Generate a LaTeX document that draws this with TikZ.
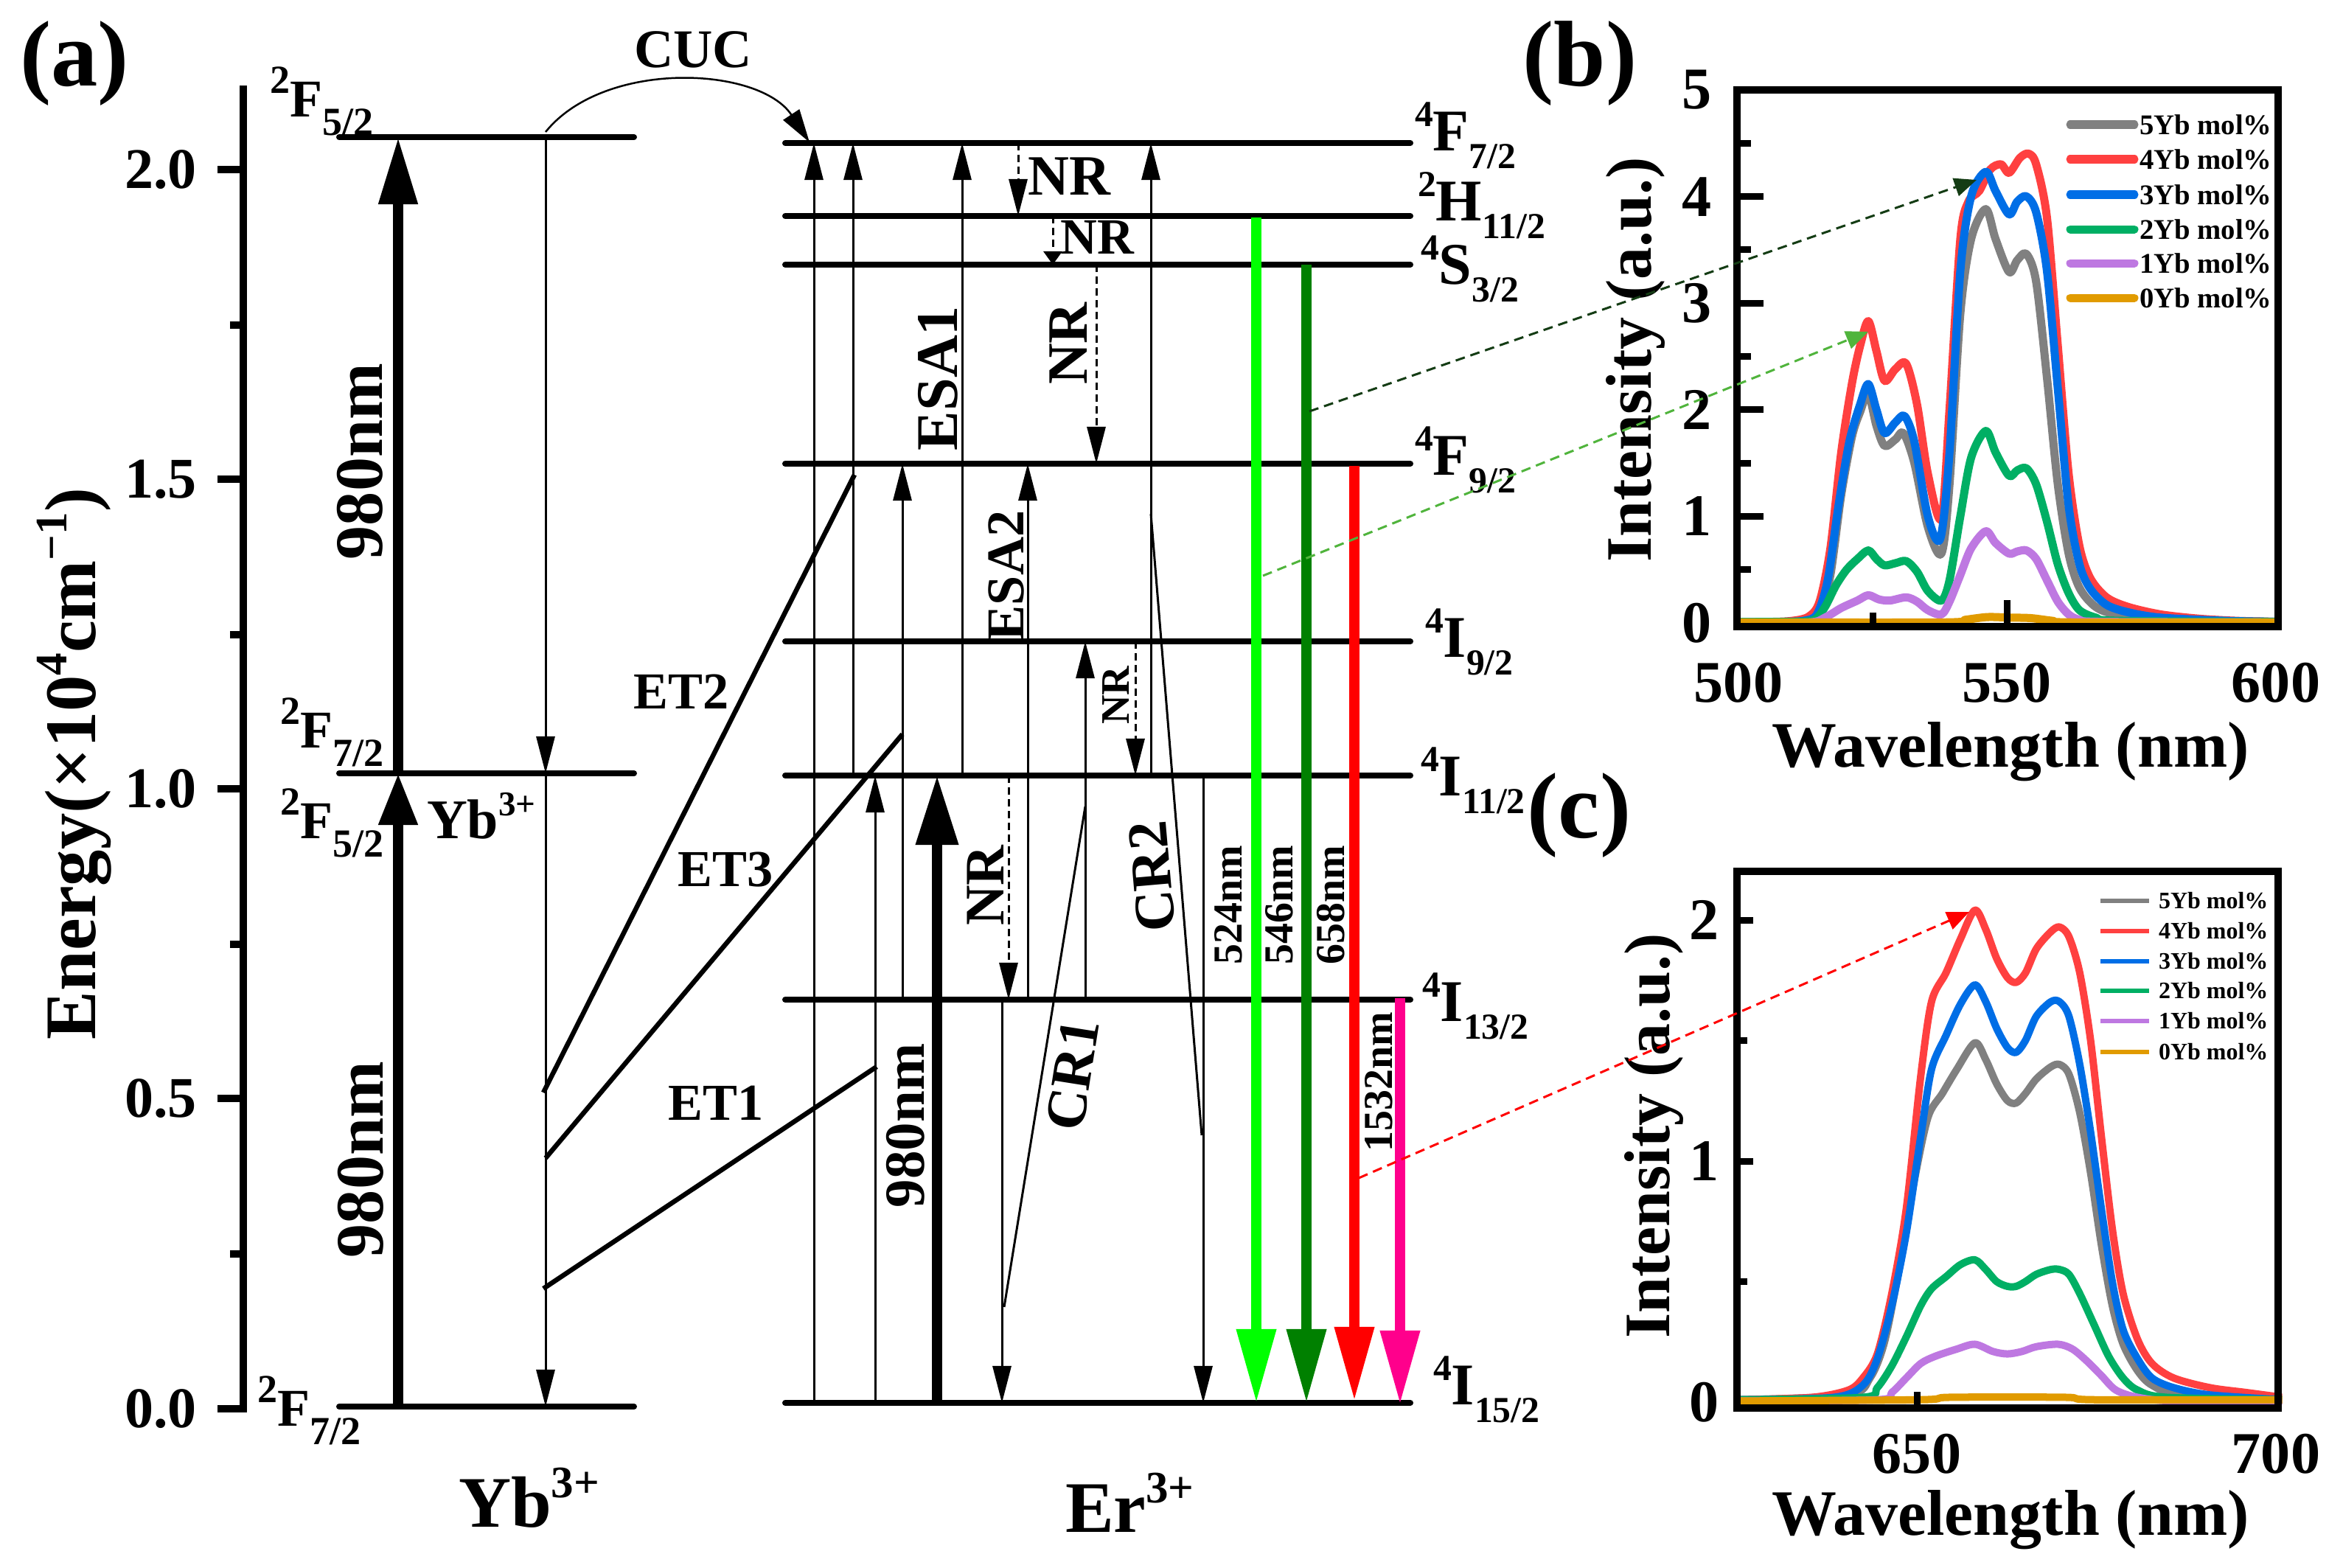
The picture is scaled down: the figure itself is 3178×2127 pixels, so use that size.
\documentclass[tikz,border=0pt]{standalone}
\usepackage{fontspec}
\setmainfont{Liberation Serif}
\usetikzlibrary{arrows.meta}
\definecolor{lgreen}{RGB}{0,255,0}
\definecolor{dgreen}{RGB}{0,128,0}
\definecolor{pinkm}{RGB}{255,0,140}
\definecolor{ddash}{RGB}{20,60,20}
\definecolor{ldash}{RGB}{80,180,60}
\definecolor{cgray}{RGB}{128,128,128}
\definecolor{cred}{RGB}{255,64,64}
\definecolor{cblue}{RGB}{0,110,230}
\definecolor{cgreen}{RGB}{0,175,100}
\definecolor{cpurp}{RGB}{190,120,225}
\definecolor{corng}{RGB}{225,155,0}
\newcommand\fs[1]{\fontsize{#1}{#1}\selectfont\bfseries}
\newcommand\YSup[1]{\raisebox{0.44em}{\scalebox{0.75}{#1}}}
\newcommand\YSub[1]{\raisebox{-0.36em}{\scalebox{0.75}{#1}}}
\newcommand\ESup[1]{\raisebox{0.4em}{\scalebox{0.62}{#1}}}
\newcommand\ESub[1]{\raisebox{-0.3em}{\scalebox{0.62}{#1}}}
\begin{document}
\begin{tikzpicture}[x=0.01cm,y=-0.01cm,
  lvl/.style={line width=0.08cm,line cap=round},
  thn/.style={line width=0.03cm},
  tarr/.style={thn,-{Triangle[length=0.5cm,width=0.25cm]}},
  nrd/.style={thn,dash pattern=on 0.1cm off 0.06cm,-{Triangle[length=0.5cm,width=0.25cm]}},
  ybarrow/.style={line width=0.14cm,-{Triangle[length=#1,width=0.5cm]}},
  erarrow/.style={line width=0.134cm,-{Triangle[length=0.94cm,width=0.55cm]}},
  emis/.style={line width=0.134cm,draw=#1,-{Triangle[length=1.0cm,width=0.51cm]}},
  conn/.style={line width=0.03cm,draw=#1,dash pattern=on 0.13cm off 0.08cm,-{Triangle[length=0.3cm,width=0.25cm]}},
  et/.style={line width=0.065cm},
  txt/.style={inner sep=0pt,outer sep=0pt},
  frm/.style={line width=0.1cm},
  tck/.style={line width=0.09cm},
  crv/.style={line width=0.11cm,line join=round,draw=#1},
  crvc/.style={line width=0.1cm,line join=round,draw=#1},
]
\useasboundingbox (0,0) rectangle (3178,2127);
\fill[white] (0,0) rectangle (3178,2127);

% ---------------- panel (a) ----------------
\node[txt,font=\fs{36}] (la) at (101,86) {(a)};
\node[txt,font=\fs{28},rotate=90] (ylab) at (101,1036) {Energy(×10\ESup{4}cm\ESup{−1})};
\draw[frm] (330,116) -- (330,1916);
\foreach \y in {230,650,1070,1490,1911} \draw[frm] (295,\y) -- (330,\y);
\foreach \y in {441,861,1281,1701} \draw[frm] (312,\y) -- (330,\y);
\node[txt,font=\fs{22.2},anchor=east] (ta0) at (267,1911) {0.0};
\node[txt,font=\fs{22.2},anchor=east] (ta1) at (267,1490) {0.5};
\node[txt,font=\fs{22.2},anchor=east] (ta2) at (267,1070) {1.0};
\node[txt,font=\fs{22.2},anchor=east] (ta3) at (267,650) {1.5};
\node[txt,font=\fs{22.2},anchor=east] (ta4) at (267,230) {2.0};

% Yb levels
\coordinate (ybT) at (740,186);
\coordinate (ybM) at (740,1049);
\coordinate (ybB) at (740,1908);
\draw[lvl] (460,186) -- (860,186);
\draw[lvl] (460,1049) -- (860,1049);
\draw[lvl] (460,1908) -- (860,1908);
\node[txt,font=\fs{20.5},anchor=base west] (yl1) at (366,158) {\YSup{2}F\YSub{5/2}};
\node[txt,font=\fs{20.5},anchor=base west] (yl2) at (380,1014) {\YSup{2}F\YSub{7/2}};
\node[txt,font=\fs{20.5},anchor=base west] (yl3) at (380,1137) {\YSup{2}F\YSub{5/2}};
\node[txt,font=\fs{20.5},anchor=base west] (yl4) at (349,1934) {\YSup{2}F\YSub{7/2}};
\node[txt,font=\fs{21.6},anchor=base west] (ybion) at (579,1137) {Yb\ESup{3+}};
\node[txt,font=\fs{28},anchor=base west] (ybname) at (622,2071) {Yb\ESup{3+}};
\node[txt,font=\fs{28},anchor=base west] (ername) at (1445,2078) {Er\ESup{3+}};

\draw[ybarrow=0.7cm] (540,1908) -- (540,1049);
\draw[ybarrow=0.91cm] (540,1049) -- (540,186);
\node[txt,font=\fs{26.2},rotate=90] (nm1) at (488,626) {980nm};
\node[txt,font=\fs{26.2},rotate=90] (nm2) at (489,1573) {980nm};
\draw[tarr] (ybT) -- (ybM);
\draw[tarr] (ybM) -- (ybB);

% CUC
\node[txt,font=\fs{21}] (cuc) at (940,67) {CUC};
\coordinate (cucS) at (740,179);
\coordinate (cucE) at (1098,193);
\draw[line width=0.025cm,-{Triangle[length=0.45cm,width=0.26cm]}] (cucS) .. controls (820,80) and (1030,90) .. (cucE);

% Er levels
\foreach \y in {194,293,359,629,870,1052,1356,1903} \draw[lvl] (1065,\y) -- (1913,\y);
\node[txt,font=\fs{22.8},anchor=base west] (e1) at (1919,204) {\ESup{4}F\ESub{7/2}};
\node[txt,font=\fs{22.8},anchor=base west] (e2) at (1923,299) {\ESup{2}H\ESub{11/2}};
\node[txt,font=\fs{22.8},anchor=base west] (e3) at (1927,385) {\ESup{4}S\ESub{3/2}};
\node[txt,font=\fs{22.8},anchor=base west] (e4) at (1919,644) {\ESup{4}F\ESub{9/2}};
\node[txt,font=\fs{22.8},anchor=base west] (e5) at (1933,891) {\ESup{4}I\ESub{9/2}};
\node[txt,font=\fs{22.8},anchor=base west] (e6) at (1927,1079) {\ESup{4}I\ESub{11/2}};
\node[txt,font=\fs{22.8},anchor=base west] (e7) at (1929,1385) {\ESup{4}I\ESub{13/2}};
\node[txt,font=\fs{22.8},anchor=base west] (e8) at (1944,1905) {\ESup{4}I\ESub{15/2}};

% Er transitions
\draw[tarr] (1104,1903) -- (1104,194);
\draw[tarr] (1157,1052) -- (1157,194);
\draw[tarr] (1187,1903) -- (1187,1052);
\draw[tarr] (1224,1356) -- (1224,629);
\draw[erarrow] (1271,1903) -- (1271,1052);
\draw[tarr] (1305,1052) -- (1305,194);
\draw[nrd] (1368,1052) -- (1368,1356);
\draw[tarr] (1359,1356) -- (1359,1903);
\draw[tarr] (1394,1356) -- (1394,629);
\draw[nrd] (1381,194) -- (1381,293);
\draw[thn,dash pattern=on 0.1cm off 0.06cm,-{Triangle[length=0.18cm,width=0.25cm]}] (1428,293) -- (1428,359);
\draw[nrd] (1487,359) -- (1487,629);
\draw[tarr] (1472,1356) -- (1472,870);
\draw[thn] (1472,1094) -- (1362,1773);
\draw[nrd] (1540,870) -- (1540,1052);
\draw[tarr] (1561,1052) -- (1561,194);
\draw[thn] (1561,697) -- (1630,1540);
\draw[tarr] (1632,1052) -- (1632,1903);

% ET lines
\draw[et] (737,1482) -- (1159,644);
\draw[et] (740,1571) -- (1224,996);
\draw[et] (737,1748) -- (1189,1447);
\node[txt,font=\fs{20}] (et2) at (924,938) {ET2};
\node[txt,font=\fs{20}] (et3) at (984,1180) {ET3};
\node[txt,font=\fs{20}] (et1) at (971,1496) {ET1};

% emissions
\draw[emis=lgreen] (1704,295) -- (1704,1903);
\draw[emis=dgreen] (1772,359) -- (1772,1903);
\draw[emis=red] (1837,632) -- (1837,1900);
\draw[emis=pinkm] (1899,1354) -- (1899,1905);

% Er labels
\node[txt,font=\fs{22}] (nr1) at (1450,239) {NR};
\node[txt,font=\fs{19.6}] (nr2) at (1488,322) {NR};
\node[txt,font=\fs{22},rotate=90] (nr3) at (1449,466) {NR};
\node[txt,font=\fs{22.8},rotate=90] (esa1) at (1272,513) {ESA1};
\node[txt,font=\fs{20.5},rotate=90] (esa2) at (1365,781) {ESA2};
\node[txt,font=\fs{15.6},rotate=90] (nr4) at (1514,943) {NR};
\node[txt,font=\fs{21.9},rotate=90] (nm3) at (1228,1527) {980nm};
\node[txt,font=\fs{21.5},rotate=90] (nr5) at (1337,1201) {NR};
\node[txt,font=\fs{22},rotate=81] (cr1) at (1455,1458) {CR1};
\node[txt,font=\fs{22},rotate=95] (cr2) at (1563,1189) {CR2};
\node[txt,font=\fs{15.9},rotate=90] (w1) at (1666,1228) {524nm};
\node[txt,font=\fs{15.9},rotate=90] (w2) at (1735,1228) {546nm};
\node[txt,font=\fs{15.9},rotate=90] (w3) at (1805,1228) {658nm};
\node[txt,font=\fs{15.9},rotate=90] (w4) at (1870,1468) {1532nm};

% ---------------- panel (b) ----------------
\node[txt,font=\fs{36}] (lb) at (2143,86) {(b)};
\begin{scope}[shift={(-1314,845)},x=0.0734cm,y=1.446cm]
\clip (500,-0.035) rectangle (600,5);
\draw[crv=cgray] plot[smooth,tension=0.5] coordinates {(500,0.01) (508,0.01) (512,0.02) (515,0.08) (517,0.45) (519,1.2) (521,1.75) (522.5,1.98) (524,2.15) (525.5,1.85) (527,1.66) (529,1.72) (530.5,1.78) (532.5,1.5) (535,0.9) (537.5,0.65) (539,1.3) (541,2.9) (543,3.6) (545.7,3.88) (547.5,3.6) (550,3.29) (551.5,3.4) (553.2,3.46) (555,3.2) (557,2.3) (559,1.3) (561,0.65) (563,0.33) (566,0.15) (570,0.08) (580,0.03) (600,0.01)};
\draw[crv=cred] plot[smooth,tension=0.5] coordinates {(500,0.01) (506,0.01) (510,0.02) (513,0.06) (515,0.2) (517,0.7) (519,1.6) (521,2.25) (522.5,2.6) (524,2.83) (525.5,2.55) (527,2.27) (529,2.38) (531,2.43) (533,2.05) (535,1.4) (537.5,0.98) (539,2.0) (541,3.6) (542.5,3.95) (544.5,4.05) (546.5,4.25) (548.5,4.3) (550,4.22) (552,4.36) (553.6,4.4) (555,4.3) (557,3.8) (559,2.6) (561,1.4) (563,0.72) (565,0.42) (568,0.24) (572,0.15) (578,0.08) (585,0.04) (592,0.02) (600,0.01)};
\draw[crv=cblue] plot[smooth,tension=0.5] coordinates {(500,0.01) (508,0.01) (512,0.02) (514.5,0.08) (516.5,0.4) (518.5,1.1) (520.5,1.7) (522.5,2.05) (524,2.24) (525.5,2.0) (527,1.78) (529,1.88) (530.7,1.94) (532.5,1.7) (535,1.0) (537.3,0.79) (539,1.6) (541,3.3) (543,4.0) (545.7,4.23) (547.5,4.05) (550,3.83) (551.5,3.95) (553.2,4.0) (555,3.85) (557,3.3) (559,2.2) (561,1.1) (563,0.55) (565,0.32) (568,0.17) (572,0.1) (578,0.05) (590,0.02) (600,0.01)};
\draw[crv=cgreen] plot[smooth,tension=0.5] coordinates {(500,0.01) (510,0.01) (514,0.03) (516,0.15) (518,0.35) (520,0.5) (522,0.6) (524,0.68) (525.5,0.6) (527,0.54) (529,0.56) (531,0.58) (533,0.48) (535,0.3) (537.5,0.21) (539,0.4) (541,1.0) (543,1.55) (545.7,1.8) (547.5,1.6) (550,1.38) (551.5,1.43) (553.2,1.45) (555,1.3) (557,0.95) (559,0.55) (561,0.28) (563,0.12) (566,0.05) (570,0.02) (600,0.01)};
\draw[crv=cpurp] plot[smooth,tension=0.5] coordinates {(500,0.005) (513,0.005) (516,0.05) (519,0.14) (522,0.21) (524,0.26) (526,0.22) (528,0.21) (531,0.24) (533,0.2) (535,0.12) (537.5,0.08) (539,0.2) (541,0.45) (543,0.7) (545.7,0.86) (547.5,0.75) (550,0.65) (551.5,0.67) (553.2,0.68) (555,0.6) (557,0.4) (559,0.2) (561,0.08) (563,0.03) (567,0.01) (600,0.005)};
\draw[crv=corng] plot[smooth,tension=0.5] coordinates {(500,0.005) (538,0.005) (542,0.03) (546,0.055) (550,0.05) (554,0.045) (558,0.02) (562,0.005) (600,0.005)};
\end{scope}
\draw[frm] (2356,122) rectangle (3090,850);
\foreach \v in {1,2,3,4} \draw[tck] (2356,{845-144.6*\v}) -- (2392,{845-144.6*\v});
\foreach \v in {0.5,1.5,2.5,3.5,4.5} \draw[tck] (2356,{845-144.6*\v}) -- (2375,{845-144.6*\v});
\draw[tck] (2540,850) -- (2540,831);
\draw[tck] (2722,850) -- (2722,814);
\node[txt,font=\fs{22.8},anchor=east] (tb0) at (2322,845) {0};
\node[txt,font=\fs{22.8},anchor=east] (tb1) at (2322,700) {1};
\node[txt,font=\fs{22.8},anchor=east] (tb2) at (2322,556) {2};
\node[txt,font=\fs{22.8},anchor=east] (tb3) at (2322,411) {3};
\node[txt,font=\fs{22.8},anchor=east] (tb4) at (2322,267) {4};
\node[txt,font=\fs{22.8},anchor=east] (tb5) at (2322,122) {5};
\node[txt,font=\fs{22.8}] (xb1) at (2358,926) {500};
\node[txt,font=\fs{22.8}] (xb2) at (2722,926) {550};
\node[txt,font=\fs{22.8}] (xb3) at (3087,926) {600};
\node[txt,font=\fs{25}] (xtb) at (2727,1020) {Wavelength (nm)};
\node[txt,font=\fs{25},rotate=90] (ytb) at (2218,488) {Intensity (a.u.)};
\foreach \c/\t/\y in {cgray/5/169,cred/4/216,cblue/3/264,cgreen/2/311,cpurp/1/357,corng/0/404}{
  \draw[line width=0.11cm,line cap=round,draw=\c] (2808,\y) -- (2895,\y);
  \node[txt,anchor=west,font=\fs{11}] at (2902,\y) {\t Yb mol\%};
}

% ---------------- panel (c) ----------------
\node[txt,font=\fs{36}] (lc) at (2142,1106) {(c)};
\begin{scope}[shift={(-3769,1902)},x=0.098cm,y=3.27cm]
\clip (625,-0.025) rectangle (700,2.2);
\draw[crvc=cgray] plot[smooth,tension=0.5] coordinates {(625,0.01) (640,0.03) (643,0.1) (645,0.25) (647,0.55) (649,0.9) (651,1.18) (653,1.28) (655,1.38) (657.5,1.49) (659,1.42) (660.5,1.32) (662,1.25) (663.2,1.24) (664.5,1.28) (666,1.34) (668,1.39) (669.2,1.4) (670.5,1.36) (672,1.2) (673.5,0.95) (675,0.65) (676.5,0.4) (678,0.24) (680,0.13) (682,0.07) (686,0.03) (700,0.01)};
\draw[crvc=cred] plot[smooth,tension=0.5] coordinates {(625,0.01) (635,0.02) (640,0.05) (642,0.1) (644,0.2) (646,0.45) (648,0.8) (650,1.35) (651.5,1.66) (653.5,1.78) (655.5,1.92) (657.5,2.04) (659,1.96) (660.5,1.84) (662,1.76) (663.2,1.74) (664.5,1.78) (666,1.88) (668,1.95) (669.2,1.97) (670.5,1.93) (672,1.78) (673.5,1.5) (675,1.1) (676.5,0.72) (678,0.45) (680,0.26) (682,0.16) (685,0.1) (690,0.06) (695,0.04) (700,0.02)};
\draw[crvc=cblue] plot[smooth,tension=0.5] coordinates {(625,0.01) (638,0.02) (642,0.07) (644,0.18) (646,0.4) (648,0.7) (650,1.1) (651.5,1.38) (653.5,1.52) (655.5,1.65) (657.5,1.73) (659,1.66) (660.5,1.55) (662,1.47) (663.2,1.45) (664.5,1.5) (666,1.6) (668,1.66) (669.2,1.66) (670.5,1.6) (672,1.4) (673.5,1.12) (675,0.8) (676.5,0.5) (678,0.3) (680,0.18) (682,0.1) (685,0.06) (690,0.03) (700,0.01)};
\draw[crvc=cgreen] plot[smooth,tension=0.5] coordinates {(625,0.01) (642,0.02) (644,0.06) (646,0.15) (648,0.27) (650,0.4) (651.5,0.47) (653.5,0.52) (655.5,0.57) (657.5,0.59) (659,0.55) (660.5,0.5) (662,0.48) (663.2,0.48) (664.5,0.5) (666,0.53) (668,0.55) (669.2,0.55) (670.5,0.53) (672,0.45) (674,0.32) (676,0.19) (678,0.1) (680,0.05) (684,0.02) (700,0.01)};
\draw[crvc=cpurp] plot[smooth,tension=0.5] coordinates {(625,0.005) (644,0.01) (646,0.04) (648,0.1) (650,0.16) (652,0.19) (655,0.22) (657.5,0.24) (660,0.21) (662,0.2) (664,0.21) (666,0.23) (669,0.24) (671,0.22) (673,0.17) (675,0.11) (677,0.05) (680,0.02) (685,0.005) (700,0.005)};
\draw[crvc=corng] plot[smooth,tension=0.5] coordinates {(625,0.005) (650,0.01) (654,0.02) (670,0.02) (674,0.01) (700,0.01)};
\end{scope}
\draw[frm] (2356,1182) rectangle (3090,1910);
\foreach \v in {1,2} \draw[tck] (2356,{1902-327*\v}) -- (2378,{1902-327*\v});
\foreach \v in {0.5,1.5} \draw[tck] (2356,{1902-327*\v}) -- (2370,{1902-327*\v});
\draw[tck] (2600,1910) -- (2600,1888);
\node[txt,font=\fs{22.8},anchor=east] (tc0) at (2332,1902) {0};
\node[txt,font=\fs{22.8},anchor=east] (tc1) at (2332,1575) {1};
\node[txt,font=\fs{22.8},anchor=east] (tc2) at (2332,1248) {2};
\node[txt,font=\fs{22.8}] (xc1) at (2600,1972) {650};
\node[txt,font=\fs{22.8}] (xc2) at (3087,1972) {700};
\node[txt,font=\fs{25}] (xtc) at (2727,2062) {Wavelength (nm)};
\node[txt,font=\fs{25},rotate=90] (ytc) at (2243,1541) {Intensity (a.u.)};
\foreach \c/\t/\y in {cgray/5/1222,cred/4/1263,cblue/3/1304,cgreen/2/1344,cpurp/1/1385,corng/0/1427}{
  \draw[line width=0.065cm,draw=\c] (2849,\y) -- (2915,\y);
  \node[txt,anchor=west,font=\fs{9.1}] at (2928,\y) {\t Yb mol\%};
}

% connectors to spectra
\coordinate (pkb1) at (2681,244);
\coordinate (pkb2) at (2534,450);
\coordinate (pkc) at (2671,1237);
\draw[conn=ddash] (1776,558) -- (pkb1);
\draw[conn=ldash] (1713,781) -- (pkb2);
\draw[conn=red] (1843,1598) -- (pkc);
\end{tikzpicture}
\end{document}
